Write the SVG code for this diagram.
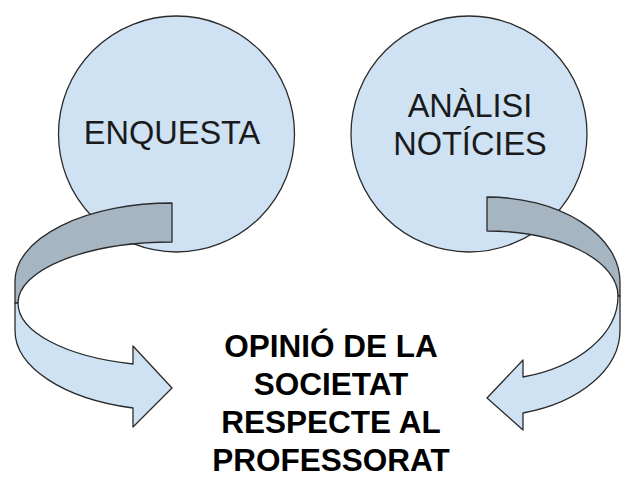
<svg xmlns="http://www.w3.org/2000/svg" width="621" height="479" viewBox="0 0 621 479">
<style>
.circ{fill:#cfe2f3;stroke:#2b2b2b;stroke-width:1.3}
.back{fill:#a6b5c2;stroke:#2b2b2b;stroke-width:1.3;stroke-linejoin:round}
.front{fill:#cfe2f3;stroke:#2b2b2b;stroke-width:1.3;stroke-linejoin:round}
.lbl{font-family:"Liberation Sans",Arial,sans-serif;font-size:32.5px;fill:#1a1a1a;text-anchor:middle}
.bold{font-family:"Liberation Sans",Arial,sans-serif;font-size:31.5px;font-weight:bold;fill:#000;text-anchor:middle}
</style>
<rect width="621" height="479" fill="#fff"/>
<g id="enquesta">
<circle class="circ" cx="176.5" cy="134" r="118"/>
<text class="lbl" x="172" y="144">ENQUESTA</text>
</g>
<g id="analisi">
<circle class="circ" cx="469" cy="134" r="118"/>
<text class="lbl" x="470" y="117">ANÀLISI</text>
<text class="lbl" x="470" y="155">NOTÍCIES</text>
</g>
<g id="connectors">
<g id="arrow-left">
<path class="back" d="M172,203 A157 78 0 0 0 15 281 L15,303 L18,303 A154 61 0 0 1 172 242 Z"/>
<path class="front" d="M18,303 A154 63 0 0 0 133 364 L133,346 L172,388 L133,427 L133,408 A157 80 0 0 1 15 330 L15,303 Z"/>
</g>
<g id="arrow-right">
<path class="back" d="M487,197 A133 85 0 0 1 620 282 L620,296 L618,296 A131 65 0 0 0 487 231 Z"/>
<path class="front" d="M618,296 A131 84 0 0 1 523 377 L523,360 L487,398 L523,430 L523,413 A133 86 0 0 0 620 330 L620,296 Z"/>
</g>
</g>
<g id="opinio">
<text class="bold" x="331" y="357">OPINIÓ DE LA</text>
<text class="bold" x="331" y="395">SOCIETAT</text>
<text class="bold" x="331" y="433">RESPECTE AL</text>
<text class="bold" x="331" y="471">PROFESSORAT</text>
</g>
</svg>
